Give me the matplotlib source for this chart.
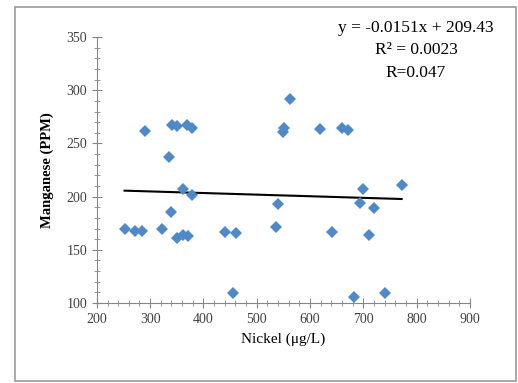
import numpy as np
import matplotlib.pyplot as plt
from matplotlib.patches import Rectangle
from matplotlib.ticker import MultipleLocator

# values
nickel = [252, 271, 284, 290, 322, 335, 339, 341, 350, 350, 361, 361, 369, 371, 378, 378,
          440, 455, 461, 537, 540, 549, 551, 562, 618, 641, 660, 671, 682, 693, 699, 710,
          720, 740, 772]
manganese = [170, 168, 168, 262, 170, 237, 186, 267, 266, 161, 164, 207, 267, 163, 265, 202,
             167, 109, 166, 171, 193, 261, 265, 292, 264, 167, 265, 263, 106, 194, 207, 164,
             189, 109, 211]

# trendline as printed on the chart
slope = -0.0151
intercept = 209.43
eq_lines = ['y = -0.0151x + 209.43', 'R\u00b2 = 0.0023', 'R=0.047']

plt.rcParams['font.family'] = ['Liberation Serif', 'DejaVu Serif']

fig = plt.figure(figsize=(5.18, 3.83), dpi=100)
ax = fig.add_axes([0.187, 0.209, 0.720, 0.694])

# outer chart border
fig.patches.append(Rectangle((0.028, 0.005), 0.968, 0.976, transform=fig.transFigure,
                             fill=False, edgecolor='#9a9a9a', linewidth=1.2))

ax.plot(nickel, manganese, linestyle='none', marker='D', ms=6.5,
        color='#5089c8', markeredgewidth=0, zorder=3)

x_fit = np.array([min(nickel), max(nickel)])
ax.plot(x_fit, slope * x_fit + intercept, color='black', linewidth=1.5, zorder=2)

ax.set_xlim(200, 900)
ax.set_ylim(100, 350)
ax.xaxis.set_major_locator(MultipleLocator(100))
ax.xaxis.set_minor_locator(MultipleLocator(20))
ax.yaxis.set_major_locator(MultipleLocator(50))
ax.yaxis.set_minor_locator(MultipleLocator(10))

for side in ['top', 'right']:
    ax.spines[side].set_visible(False)
for side in ['left', 'bottom']:
    ax.spines[side].set_color('#868686')
ax.tick_params(which='major', direction='inout', length=7, color='#868686', labelsize=10,
               labelcolor='#404040')
ax.tick_params(which='minor', direction='inout', length=4, color='#868686')

ax.set_xlabel('Nickel (\u03bcg/L)', fontsize=11, labelpad=5)
ax.set_ylabel('Manganese (PPM)', fontsize=10.5, fontweight='bold', labelpad=9)

for i, line in enumerate(eq_lines):
    fig.text(0.803, 0.928 - i * 0.059, line, fontsize=12.5, ha='center', va='center')

fig.savefig('out.png', dpi=100)
